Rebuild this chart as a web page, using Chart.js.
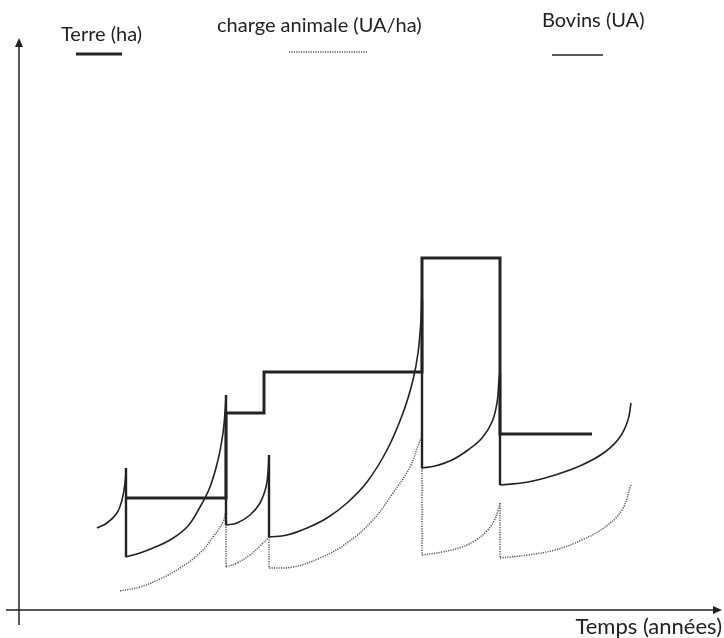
<!DOCTYPE html>
<html>
<head>
<meta charset="utf-8">
<script src="https://cdn.jsdelivr.net/npm/chart.js@4.4.1/dist/chart.umd.min.js"></script>
<style>
  body { margin: 0; background: #fff; }
  #wrap { width: 724px; height: 638px; position: relative; }
</style>
</head>
<body>
<div id="wrap"><canvas id="chart"></canvas></div>
<script>
// time (années) and value readings, origin at the axes crossing
const terreT  = [10.7, 20.7, 20.7, 24.5, 24.5, 40.3, 40.3, 48.1, 48.1, 57.3];
const terreHa = [11.2, 11.2, 19.7, 19.7, 23.8, 23.8, 35.2, 35.2, 17.6, 17.6];

// Bovins (UA), one array per growth phase: [t, value]
const bovins1 = [[7.8, 8.2], [8.8, 8.7], [9.8, 9.7], [10.3, 11.0], [10.6, 12.7], [10.7, 14.2]];
const bovins2 = [[10.7, 5.3], [12.1, 5.7], [13.4, 6.2], [15.1, 7.0], [16.8, 8.3], [18.1, 10.3],
                 [19.1, 12.3], [19.9, 15.0], [20.4, 17.7], [20.6, 19.8], [20.7, 21.5]];
const bovins3 = [[20.7, 8.5], [21.8, 8.7], [23.1, 9.5], [24.1, 10.7], [24.7, 12.3], [24.9, 13.8], [25.0, 15.5]];
const bovins4 = [[25.0, 7.3], [26.8, 7.5], [28.8, 8.2], [30.8, 9.2], [32.8, 10.7], [34.8, 12.8],
                 [36.8, 16.0], [38.4, 19.7], [39.4, 23.0], [39.9, 25.7], [40.2, 29.0], [40.3, 31.0]];
const bovins5 = [[40.3, 14.2], [41.6, 14.4], [43.3, 15.0], [44.9, 16.0], [46.3, 17.2], [47.3, 18.8],
                 [47.8, 20.7], [48.0, 23.0], [48.1, 23.7]];
const bovins6 = [[48.1, 12.5], [50.9, 12.8], [53.6, 13.5], [56.3, 14.5], [58.6, 15.8], [60.1, 17.3],
                 [60.9, 19.0], [61.2, 20.7]];

// charge animale (UA/ha)
const charge1 = [[10.1, 1.9], [12.1, 2.3], [14.1, 3.1], [16.1, 4.2], [18.1, 5.7], [19.4, 7.3], [20.4, 8.8], [20.7, 10.0]];
const charge2 = [[20.7, 4.3], [21.8, 4.7], [23.1, 5.5], [24.1, 6.4], [25.0, 7.3]];
const charge3 = [[25.0, 4.2], [27.4, 4.3], [30.1, 5.2], [32.8, 6.7], [35.4, 9.0], [37.4, 11.7],
                 [39.1, 14.3], [40.0, 16.7], [40.3, 17.3]];
const charge4 = [[40.3, 5.5], [42.3, 5.8], [44.3, 6.3], [45.7, 7.0], [46.8, 7.9], [47.5, 8.9], [47.9, 9.9], [48.1, 10.7]];
const charge5 = [[48.1, 5.2], [50.9, 5.5], [53.6, 6.0], [56.3, 7.0], [58.6, 8.3], [60.3, 10.0], [61.2, 12.5]];

const bovinsPhases = [bovins1, bovins2, bovins3, bovins4, bovins5, bovins6];
const chargePhases = [charge1, charge2, charge3, charge4, charge5];

const INK = '#222';
const DOT = '#555';
const FONT = '20px Lato';

function toPts(arr) {
    return arr.map(p => ({ x: p[0], y: p[1] }));
}

// vertical drops between the end of one phase and the start of the next
function drops(phases) {
    const out = [];
    for (let i = 0; i < phases.length - 1; i++) {
        const a = phases[i][phases[i].length - 1];
        const b = phases[i + 1][0];
        out.push({ x: a[0], y: a[1] }, { x: b[0], y: b[1] }, { x: b[0], y: null });
    }
    return out;
}

const datasets = [];

datasets.push({
    label: 'Terre (ha)',
    data: terreT.map((t, i) => ({ x: t, y: terreHa[i] })),
    borderColor: INK,
    borderWidth: 3,
    pointRadius: 0,
    tension: 0
});

bovinsPhases.forEach(ph => {
    datasets.push({
        label: 'Bovins (UA)',
        data: toPts(ph),
        borderColor: INK,
        borderWidth: 1.6,
        pointRadius: 0,
        tension: 0.4
    });
});
datasets.push({
    label: 'Bovins drops',
    data: drops(bovinsPhases),
    borderColor: INK,
    borderWidth: 2.4,
    pointRadius: 0,
    spanGaps: false
});

chargePhases.forEach(ph => {
    datasets.push({
        label: 'charge animale (UA/ha)',
        data: toPts(ph),
        borderColor: DOT,
        borderWidth: 1.5,
        borderDash: [1.2, 1.2],
        pointRadius: 0,
        tension: 0.4
    });
});
datasets.push({
    label: 'charge drops',
    data: drops(chargePhases),
    borderColor: DOT,
    borderWidth: 1.5,
    borderDash: [1.2, 1.2],
    pointRadius: 0,
    spanGaps: false
});

// axes with arrows, drawn from the scales' zero
const axesPlugin = {
    id: 'axes',
    beforeDatasetsDraw(chart) {
        const { ctx, scales: { x, y } } = chart;
        const x0 = x.getPixelForValue(0);
        const y0 = y.getPixelForValue(0);
        const xl = x.getPixelForValue(-1.3), xr = x.getPixelForValue(70.3);
        const yb = y.getPixelForValue(-1.5), yt = y.getPixelForValue(57.2);
        ctx.save();
        ctx.strokeStyle = INK;
        ctx.fillStyle = INK;
        ctx.lineWidth = 1.5;
        ctx.beginPath();
        ctx.moveTo(xl, y0); ctx.lineTo(xr - 6, y0);
        ctx.moveTo(x0, yb); ctx.lineTo(x0, yt + 6);
        ctx.stroke();
        ctx.beginPath();
        ctx.moveTo(xr, y0); ctx.lineTo(xr - 9, y0 - 4); ctx.lineTo(xr - 9, y0 + 4); ctx.closePath();
        ctx.moveTo(x0, yt); ctx.lineTo(x0 - 4, yt + 9); ctx.lineTo(x0 + 4, yt + 9); ctx.closePath();
        ctx.fill();

        ctx.font = '22px Lato';
        ctx.textBaseline = 'middle';
        ctx.textAlign = 'right';
        ctx.fillText('Temps (années)', xr, y0 + 17);
        ctx.restore();
    }
};

// legend: label text above a line sample
const legendPlugin = {
    id: 'legendRow',
    afterDraw(chart) {
        const ctx = chart.ctx;
        ctx.save();
        ctx.fillStyle = INK;
        ctx.font = FONT;
        ctx.textBaseline = 'middle';
        ctx.textAlign = 'left';
        ctx.fillText('Terre (ha)', 61, 35);
        ctx.fillText('charge animale (UA/ha)', 217, 26);
        ctx.fillText('Bovins (UA)', 542, 21);

        ctx.strokeStyle = INK;
        ctx.lineWidth = 3;
        ctx.beginPath(); ctx.moveTo(76, 54); ctx.lineTo(122, 54); ctx.stroke();

        ctx.lineWidth = 1.6;
        ctx.beginPath(); ctx.moveTo(552, 55); ctx.lineTo(603, 55); ctx.stroke();

        ctx.strokeStyle = DOT;
        ctx.lineWidth = 1.5;
        ctx.setLineDash([1.2, 1.2]);
        ctx.beginPath(); ctx.moveTo(289, 52); ctx.lineTo(368, 52); ctx.stroke();
        ctx.restore();
    }
};

new Chart(document.getElementById('chart').getContext('2d'), {
    type: 'line',
    data: { datasets: datasets },
    options: {
        responsive: true,
        maintainAspectRatio: false,
        animation: false,
        layout: { padding: 0 },
        plugins: {
            legend: { display: false },
            tooltip: { enabled: false }
        },
        scales: {
            x: { type: 'linear', min: -1.9, max: 70.5, display: false },
            y: { type: 'linear', min: -2.8, max: 61.0, display: false }
        }
    },
    plugins: [axesPlugin, legendPlugin]
});
</script>
</body>
</html>
